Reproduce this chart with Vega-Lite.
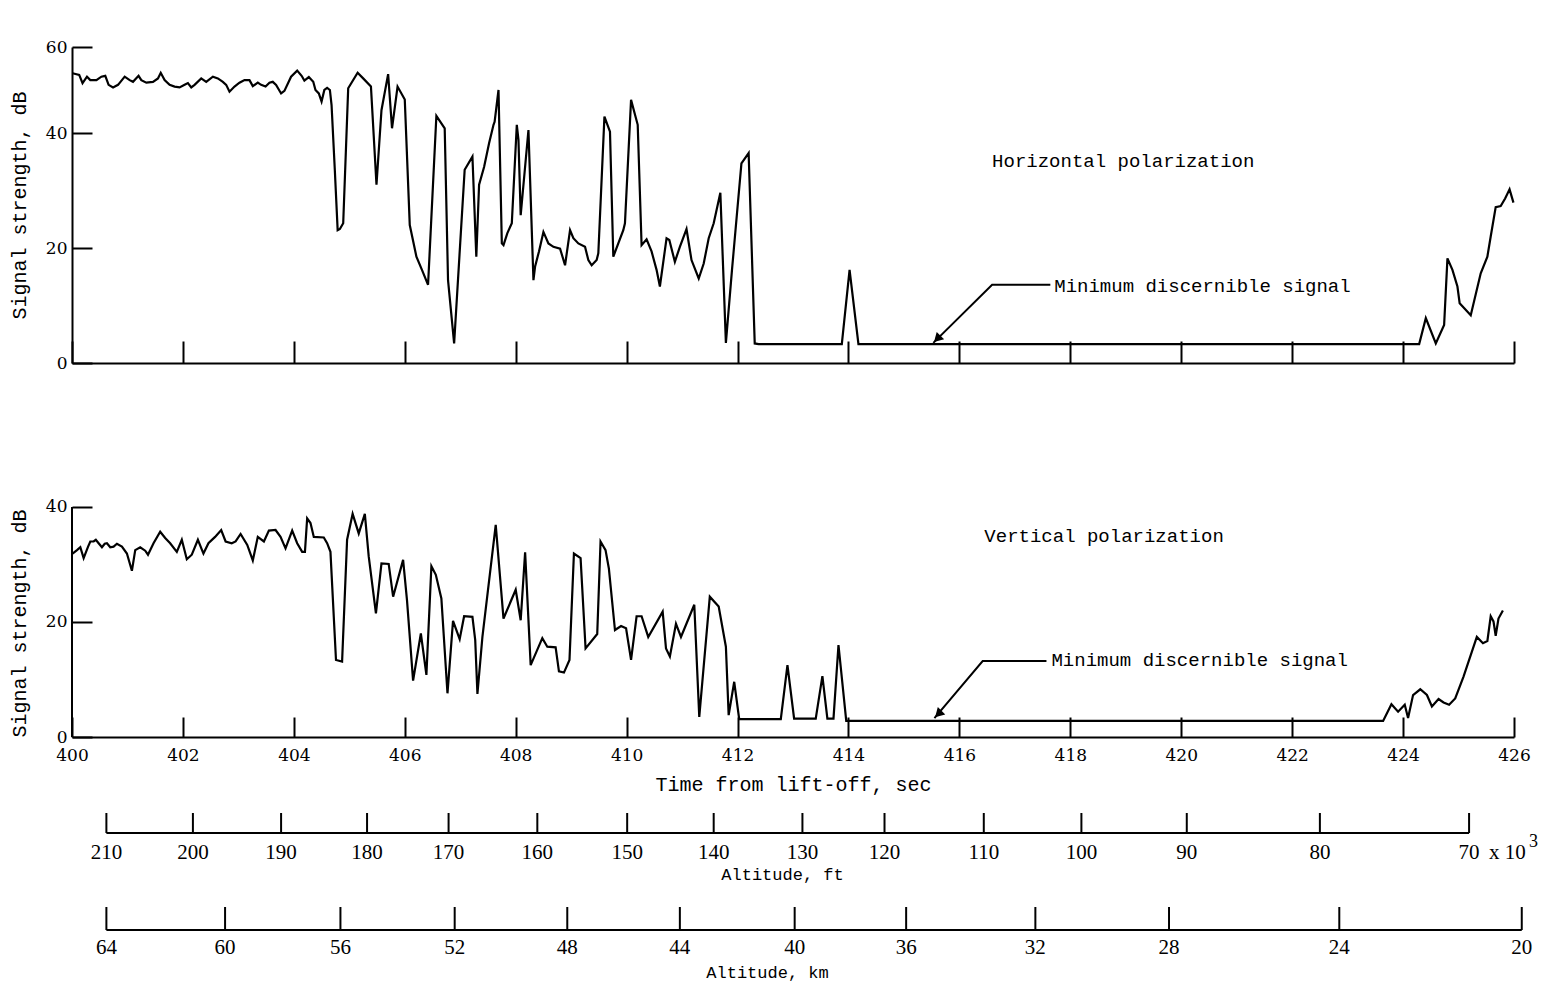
{
  "$schema": "https://vega.github.io/schema/vega-lite/v6.json",
  "background": "white",
  "padding": {"left": 9, "top": 38, "right": 0, "bottom": 4},
  "config": {
    "view": {"stroke": null},
    "axis": {"grid": false, "domainColor": "#000", "domainWidth": 2, "tickColor": "#000", "tickWidth": 2, "labelColor": "#000", "labelFont": "DejaVu Serif", "labelFontSize": 17, "titleColor": "#000", "titleFont": "Liberation Mono", "titleFontSize": 20, "titleFontWeight": "normal", "labelFlush": false, "labelOverlap": false, "format": "d"},
    "line": {"color": "#000", "strokeWidth": 2.2},
    "rule": {"color": "#000", "strokeWidth": 2},
    "text": {"font": "Liberation Mono", "fontSize": 19, "color": "#000"}
  },
  "datasets": {
    "horiz": [
      {"t":400.01,"v":53.9},{"t":400.13,"v":53.5},{"t":400.19,"v":51.6},{"t":400.27,"v":53.1},{"t":400.33,"v":52.3},{"t":400.44,"v":52.3},{"t":400.53,"v":53.1},{"t":400.60,"v":53.3},{"t":400.66,"v":51.2},{"t":400.74,"v":50.6},{"t":400.83,"v":51.2},{"t":400.95,"v":53.1},{"t":401.04,"v":52.3},{"t":401.10,"v":51.9},{"t":401.20,"v":53.3},{"t":401.25,"v":52.3},{"t":401.34,"v":51.7},{"t":401.46,"v":51.9},{"t":401.55,"v":52.7},{"t":401.60,"v":54.0},{"t":401.67,"v":52.3},{"t":401.76,"v":51.2},{"t":401.85,"v":50.8},{"t":401.94,"v":50.6},{"t":402.03,"v":51.2},{"t":402.09,"v":51.6},{"t":402.15,"v":50.6},{"t":402.21,"v":51.2},{"t":402.33,"v":52.7},{"t":402.42,"v":51.9},{"t":402.54,"v":53.1},{"t":402.63,"v":52.7},{"t":402.72,"v":51.9},{"t":402.78,"v":51.2},{"t":402.84,"v":49.6},{"t":402.93,"v":50.8},{"t":403.02,"v":51.7},{"t":403.11,"v":52.3},{"t":403.20,"v":52.3},{"t":403.26,"v":50.9},{"t":403.35,"v":51.7},{"t":403.41,"v":51.2},{"t":403.49,"v":50.8},{"t":403.56,"v":51.7},{"t":403.62,"v":51.9},{"t":403.68,"v":51.2},{"t":403.77,"v":49.2},{"t":403.83,"v":49.8},{"t":403.95,"v":53.1},{"t":404.06,"v":54.5},{"t":404.14,"v":53.3},{"t":404.19,"v":52.2},{"t":404.27,"v":53.0},{"t":404.35,"v":51.9},{"t":404.39,"v":50.0},{"t":404.45,"v":49.2},{"t":404.50,"v":47.3},{"t":404.55,"v":50.0},{"t":404.60,"v":50.5},{"t":404.65,"v":50.0},{"t":404.68,"v":46.5},{"t":404.74,"v":33.3},{"t":404.79,"v":23.1},{"t":404.83,"v":23.3},{"t":404.89,"v":24.3},{"t":404.98,"v":50.4},{"t":405.15,"v":54.0},{"t":405.25,"v":52.7},{"t":405.39,"v":50.8},{"t":405.49,"v":31.0},{"t":405.58,"v":45.3},{"t":405.70,"v":53.7},{"t":405.77,"v":41.1},{"t":405.87,"v":50.8},{"t":406.00,"v":47.8},{"t":406.09,"v":24.0},{"t":406.21,"v":18.5},{"t":406.31,"v":16.2},{"t":406.42,"v":13.6},{"t":406.57,"v":44.0},{"t":406.72,"v":41.1},{"t":406.78,"v":14.4},{"t":406.89,"v":3.4},{"t":407.08,"v":33.6},{"t":407.22,"v":35.9},{"t":407.29,"v":18.5},{"t":407.34,"v":31.0},{"t":407.43,"v":34.1},{"t":407.52,"v":38.2},{"t":407.60,"v":41.9},{"t":407.62,"v":42.6},{"t":407.69,"v":50.0},{"t":407.75,"v":20.8},{"t":407.78,"v":20.5},{"t":407.85,"v":22.6},{"t":407.93,"v":24.3},{"t":408.02,"v":41.9},{"t":408.05,"v":38.8},{"t":408.09,"v":25.7},{"t":408.23,"v":40.7},{"t":408.32,"v":14.4},{"t":408.35,"v":16.8},{"t":408.42,"v":19.4},{"t":408.50,"v":22.8},{"t":408.59,"v":20.8},{"t":408.68,"v":20.2},{"t":408.80,"v":19.9},{"t":408.89,"v":17.0},{"t":408.98,"v":23.1},{"t":409.04,"v":21.7},{"t":409.13,"v":20.8},{"t":409.25,"v":20.2},{"t":409.31,"v":17.9},{"t":409.37,"v":17.0},{"t":409.46,"v":17.9},{"t":409.49,"v":19.1},{"t":409.60,"v":43.8},{"t":409.70,"v":40.3},{"t":409.76,"v":18.5},{"t":409.94,"v":23.1},{"t":409.97,"v":24.3},{"t":410.08,"v":47.7},{"t":410.20,"v":41.9},{"t":410.27,"v":20.5},{"t":410.36,"v":21.5},{"t":410.45,"v":19.4},{"t":410.54,"v":16.2},{"t":410.60,"v":13.3},{"t":410.72,"v":21.7},{"t":410.77,"v":21.4},{"t":410.87,"v":17.6},{"t":410.96,"v":20.2},{"t":411.08,"v":23.3},{"t":411.17,"v":17.9},{"t":411.30,"v":14.7},{"t":411.39,"v":17.3},{"t":411.48,"v":21.7},{"t":411.57,"v":24.3},{"t":411.69,"v":29.6},{"t":411.79,"v":3.5},{"t":411.90,"v":16.2},{"t":412.07,"v":34.7},{"t":412.20,"v":36.5},{"t":412.31,"v":3.4},{"t":412.38,"v":3.3},{"t":413.88,"v":3.3},{"t":414.02,"v":16.2},{"t":414.18,"v":3.3},{"t":424.29,"v":3.3},{"t":424.41,"v":7.8},{"t":424.59,"v":3.4},{"t":424.74,"v":6.6},{"t":424.80,"v":18.2},{"t":424.89,"v":16.2},{"t":424.98,"v":13.3},{"t":425.02,"v":10.4},{"t":425.22,"v":8.3},{"t":425.40,"v":15.6},{"t":425.52,"v":18.5},{"t":425.58,"v":22.0},{"t":425.67,"v":27.1},{"t":425.76,"v":27.3},{"t":425.84,"v":28.6},{"t":425.92,"v":30.2},{"t":425.99,"v":27.9}
    ],
    "vert": [
      {"t":400.01,"v":31.9},{"t":400.09,"v":32.5},{"t":400.15,"v":33.0},{"t":400.21,"v":31.1},{"t":400.29,"v":33.1},{"t":400.33,"v":34.0},{"t":400.39,"v":34.0},{"t":400.43,"v":34.3},{"t":400.48,"v":33.7},{"t":400.54,"v":33.0},{"t":400.59,"v":33.6},{"t":400.63,"v":33.7},{"t":400.69,"v":33.0},{"t":400.75,"v":33.1},{"t":400.81,"v":33.6},{"t":400.90,"v":33.1},{"t":400.99,"v":31.9},{"t":401.08,"v":28.9},{"t":401.14,"v":32.5},{"t":401.23,"v":33.0},{"t":401.32,"v":32.4},{"t":401.37,"v":31.7},{"t":401.47,"v":33.7},{"t":401.59,"v":35.7},{"t":401.68,"v":34.6},{"t":401.77,"v":33.7},{"t":401.89,"v":32.2},{"t":401.98,"v":34.3},{"t":402.07,"v":30.9},{"t":402.16,"v":31.7},{"t":402.27,"v":34.3},{"t":402.37,"v":31.9},{"t":402.46,"v":33.7},{"t":402.58,"v":34.8},{"t":402.69,"v":36.0},{"t":402.77,"v":34.0},{"t":402.88,"v":33.7},{"t":402.95,"v":34.0},{"t":403.04,"v":35.3},{"t":403.16,"v":33.4},{"t":403.26,"v":30.7},{"t":403.35,"v":34.8},{"t":403.46,"v":34.0},{"t":403.55,"v":35.9},{"t":403.67,"v":36.0},{"t":403.76,"v":34.8},{"t":403.85,"v":32.8},{"t":403.97,"v":35.9},{"t":404.06,"v":33.7},{"t":404.15,"v":32.2},{"t":404.20,"v":32.2},{"t":404.24,"v":38.0},{"t":404.30,"v":37.2},{"t":404.36,"v":34.8},{"t":404.54,"v":34.7},{"t":404.60,"v":33.7},{"t":404.66,"v":32.2},{"t":404.76,"v":13.4},{"t":404.87,"v":13.1},{"t":404.96,"v":34.3},{"t":405.06,"v":38.8},{"t":405.17,"v":35.4},{"t":405.28,"v":38.8},{"t":405.35,"v":31.4},{"t":405.48,"v":21.5},{"t":405.58,"v":30.2},{"t":405.71,"v":30.1},{"t":405.79,"v":24.4},{"t":405.97,"v":30.8},{"t":406.04,"v":23.8},{"t":406.15,"v":9.8},{"t":406.29,"v":18.0},{"t":406.39,"v":10.8},{"t":406.48,"v":29.7},{"t":406.56,"v":28.2},{"t":406.66,"v":24.1},{"t":406.77,"v":7.6},{"t":406.87,"v":20.2},{"t":406.99,"v":17.0},{"t":407.07,"v":21.0},{"t":407.22,"v":20.9},{"t":407.27,"v":16.9},{"t":407.31,"v":7.5},{"t":407.40,"v":17.4},{"t":407.64,"v":36.9},{"t":407.78,"v":20.6},{"t":408.00,"v":25.6},{"t":408.09,"v":20.3},{"t":408.17,"v":32.1},{"t":408.27,"v":12.5},{"t":408.48,"v":17.2},{"t":408.57,"v":15.7},{"t":408.72,"v":15.6},{"t":408.78,"v":11.4},{"t":408.87,"v":11.2},{"t":408.97,"v":13.4},{"t":409.05,"v":31.9},{"t":409.17,"v":31.1},{"t":409.26,"v":15.4},{"t":409.47,"v":17.9},{"t":409.53,"v":34.0},{"t":409.62,"v":32.5},{"t":409.68,"v":29.3},{"t":409.79,"v":18.6},{"t":409.90,"v":19.3},{"t":409.99,"v":18.9},{"t":410.08,"v":13.4},{"t":410.18,"v":21.0},{"t":410.27,"v":21.0},{"t":410.39,"v":17.4},{"t":410.65,"v":21.8},{"t":410.71,"v":15.4},{"t":410.78,"v":14.0},{"t":410.89,"v":19.7},{"t":410.98,"v":17.4},{"t":411.22,"v":23.0},{"t":411.31,"v":3.5},{"t":411.50,"v":24.4},{"t":411.66,"v":22.7},{"t":411.79,"v":15.7},{"t":411.84,"v":3.8},{"t":411.94,"v":9.6},{"t":412.03,"v":3.1},{"t":412.78,"v":3.1},{"t":412.90,"v":12.5},{"t":413.02,"v":3.2},{"t":413.41,"v":3.2},{"t":413.53,"v":10.6},{"t":413.62,"v":3.2},{"t":413.73,"v":3.2},{"t":413.82,"v":16.0},{"t":413.96,"v":2.8},{"t":423.64,"v":2.8},{"t":423.79,"v":5.7},{"t":423.91,"v":4.4},{"t":424.03,"v":5.6},{"t":424.09,"v":3.3},{"t":424.18,"v":7.3},{"t":424.31,"v":8.3},{"t":424.43,"v":7.3},{"t":424.52,"v":5.3},{"t":424.64,"v":6.6},{"t":424.73,"v":6.0},{"t":424.83,"v":5.6},{"t":424.94,"v":6.7},{"t":425.09,"v":10.5},{"t":425.33,"v":17.4},{"t":425.44,"v":16.3},{"t":425.52,"v":16.7},{"t":425.58,"v":21.0},{"t":425.63,"v":20.1},{"t":425.67,"v":17.6},{"t":425.72,"v":20.6},{"t":425.80,"v":22.0}
    ],
    "arrowH": [{"t":415.53,"v":3.5},{"t":416.59,"v":13.6},{"t":417.64,"v":13.6}],
    "headH": [{"t":415.60,"v":4.2}],
    "labelsH": [{"t":416.59,"v":35.1,"label":"Horizontal polarization"},{"t":417.71,"v":13.4,"label":"Minimum discernible signal"}],
    "arrowV": [{"t":415.55,"v":3.3},{"t":416.42,"v":13.2},{"t":417.57,"v":13.2}],
    "headV": [{"t":415.62,"v":4.0}],
    "labelsV": [{"t":416.45,"v":35.0,"label":"Vertical polarization"},{"t":417.66,"v":13.4,"label":"Minimum discernible signal"}],
    "ft": [{"t":400.62,"alt":210},{"t":402.18,"alt":200},{"t":403.77,"alt":190},{"t":405.32,"alt":180},{"t":406.79,"alt":170},{"t":408.39,"alt":160},{"t":410.01,"alt":150},{"t":411.57,"alt":140},{"t":413.17,"alt":130},{"t":414.65,"alt":120},{"t":416.44,"alt":110},{"t":418.20,"alt":100},{"t":420.10,"alt":90},{"t":422.50,"alt":80},{"t":425.19,"alt":70}],
    "km": [{"t":400.62,"alt":64},{"t":402.76,"alt":60},{"t":404.84,"alt":56},{"t":406.90,"alt":52},{"t":408.93,"alt":48},{"t":410.96,"alt":44},{"t":413.03,"alt":40},{"t":415.04,"alt":36},{"t":417.37,"alt":32},{"t":419.78,"alt":28},{"t":422.85,"alt":24},{"t":426.14,"alt":20}]
  },
  "bounds": "flush",
  "spacing": 74,
  "vconcat": [
    {
      "width": 1442, "height": 316,
      "layer": [
        {"data": {"name": "horiz"}, "mark": {"type": "line"},
         "encoding": {
           "x": {"field": "t", "type": "quantitative", "scale": {"domain": [400, 426], "nice": false, "zero": false},
                 "axis": {"values": [400,402,404,406,408,410,412,414,416,418,420,422,424,426], "labels": false, "tickSize": -22, "title": null}},
           "y": {"field": "v", "type": "quantitative", "scale": {"domain": [0, 40, 60], "range": [316, 86, 0], "nice": false, "zero": false},
                 "axis": {"values": [0, 20, 40, 60], "tickSize": -20, "labelPadding": 25, "title": "Signal strength, dB", "titlePadding": 16}}
         }},
        {"data": {"name": "arrowH"}, "mark": {"type": "line", "strokeWidth": 2},
         "encoding": {
           "x": {"field": "t", "type": "quantitative"},
           "y": {"field": "v", "type": "quantitative"}
         }},
        {"data": {"name": "headH"}, "mark": {"type": "point", "shape": "triangle-up", "angle": 225, "filled": true, "size": 110, "color": "#000", "opacity": 1},
         "encoding": {
           "x": {"field": "t", "type": "quantitative"},
           "y": {"field": "v", "type": "quantitative"}
         }},
        {"data": {"name": "labelsH"}, "mark": {"type": "text", "align": "left", "baseline": "middle"},
         "encoding": {
           "x": {"field": "t", "type": "quantitative"},
           "y": {"field": "v", "type": "quantitative"},
           "text": {"field": "label"}
         }}
      ]
    },
    {
      "width": 1442, "height": 300,
      "layer": [
        {"data": {"name": "vert"}, "mark": {"type": "line"},
         "encoding": {
           "x": {"field": "t", "type": "quantitative", "scale": {"domain": [400, 426], "nice": false, "zero": false},
                 "axis": {"values": [400,402,404,406,408,410,412,414,416,418,420,422,424,426], "tickSize": -20, "labelPadding": 30, "title": "Time from lift-off, sec", "titlePadding": 11}},
           "y": {"field": "v", "type": "quantitative", "scale": {"domain": [0, 52.17], "nice": false, "zero": false},
                 "axis": {"values": [0, 20, 40], "domain": false, "tickSize": -20, "labelPadding": 25, "title": "Signal strength, dB", "titlePadding": 16, "titleAnchor": "start"}}
         }},
        {"data": {"values": [{}]}, "mark": {"type": "rule"},
         "encoding": {
           "x": {"datum": 400, "type": "quantitative"},
           "y": {"datum": 0, "type": "quantitative"},
           "y2": {"datum": 40}
         }},
        {"data": {"name": "arrowV"}, "mark": {"type": "line", "strokeWidth": 2},
         "encoding": {
           "x": {"field": "t", "type": "quantitative"},
           "y": {"field": "v", "type": "quantitative"}
         }},
        {"data": {"name": "headV"}, "mark": {"type": "point", "shape": "triangle-up", "angle": 225, "filled": true, "size": 110, "color": "#000", "opacity": 1},
         "encoding": {
           "x": {"field": "t", "type": "quantitative"},
           "y": {"field": "v", "type": "quantitative"}
         }},
        {"data": {"name": "labelsV"}, "mark": {"type": "text", "align": "left", "baseline": "middle"},
         "encoding": {
           "x": {"field": "t", "type": "quantitative"},
           "y": {"field": "v", "type": "quantitative"},
           "text": {"field": "label"}
         }}
      ]
    },
    {
      "width": 1442, "height": 22,
      "data": {"name": "ft"},
      "layer": [
        {"mark": {"type": "rule"},
         "encoding": {
           "x": {"field": "t", "type": "quantitative", "scale": {"domain": [400, 426], "nice": false, "zero": false},
                 "axis": {"domain": false, "ticks": false, "labels": false, "title": "Altitude, ft", "titlePadding": 33, "titleFontSize": 17, "titleX": 710}},
           "y": {"datum": 0, "type": "quantitative", "scale": {"domain": [0, 1.1], "nice": false, "zero": false}, "axis": null},
           "y2": {"datum": 1}
         }},
        {"mark": {"type": "rule"},
         "encoding": {
           "x": {"aggregate": "min", "field": "t", "type": "quantitative"},
           "x2": {"aggregate": "max", "field": "t"},
           "y": {"datum": 0, "type": "quantitative", "axis": null}
         }},
        {"mark": {"type": "text", "font": "Liberation Serif", "fontSize": 21, "baseline": "top", "dy": 9},
         "encoding": {
           "x": {"field": "t", "type": "quantitative"},
           "y": {"datum": 0, "type": "quantitative", "axis": null},
           "text": {"field": "alt", "type": "quantitative"}
         }},
        {"transform": [{"filter": "datum.alt == 70"}],
         "mark": {"type": "text", "font": "Liberation Serif", "fontSize": 21, "baseline": "top", "align": "left", "dy": 9, "dx": 20, "text": "x 10"},
         "encoding": {
           "x": {"field": "t", "type": "quantitative"},
           "y": {"datum": 0, "type": "quantitative", "axis": null}
         }},
        {"transform": [{"filter": "datum.alt == 70"}],
         "mark": {"type": "text", "font": "Liberation Serif", "fontSize": 18, "baseline": "top", "align": "left", "dy": 0, "dx": 60, "text": "3"},
         "encoding": {
           "x": {"field": "t", "type": "quantitative"},
           "y": {"datum": 0, "type": "quantitative", "axis": null}
         }}
      ]
    },
    {
      "width": 1442, "height": 23,
      "data": {"name": "km"},
      "layer": [
        {"mark": {"type": "rule"},
         "encoding": {
           "x": {"field": "t", "type": "quantitative", "scale": {"domain": [400, 426], "nice": false, "zero": false},
                 "axis": {"domain": false, "ticks": false, "labels": false, "title": "Altitude, km", "titlePadding": 34, "titleFontSize": 17, "titleX": 695}},
           "y": {"datum": 0, "type": "quantitative", "scale": {"domain": [0, 1], "nice": false, "zero": false}, "axis": null},
           "y2": {"datum": 1}
         }},
        {"mark": {"type": "rule"},
         "encoding": {
           "x": {"aggregate": "min", "field": "t", "type": "quantitative"},
           "x2": {"aggregate": "max", "field": "t"},
           "y": {"datum": 0, "type": "quantitative", "axis": null}
         }},
        {"mark": {"type": "text", "font": "Liberation Serif", "fontSize": 21, "baseline": "top", "dy": 7},
         "encoding": {
           "x": {"field": "t", "type": "quantitative"},
           "y": {"datum": 0, "type": "quantitative", "axis": null},
           "text": {"field": "alt", "type": "quantitative"}
         }}
      ]
    }
  ]
}
